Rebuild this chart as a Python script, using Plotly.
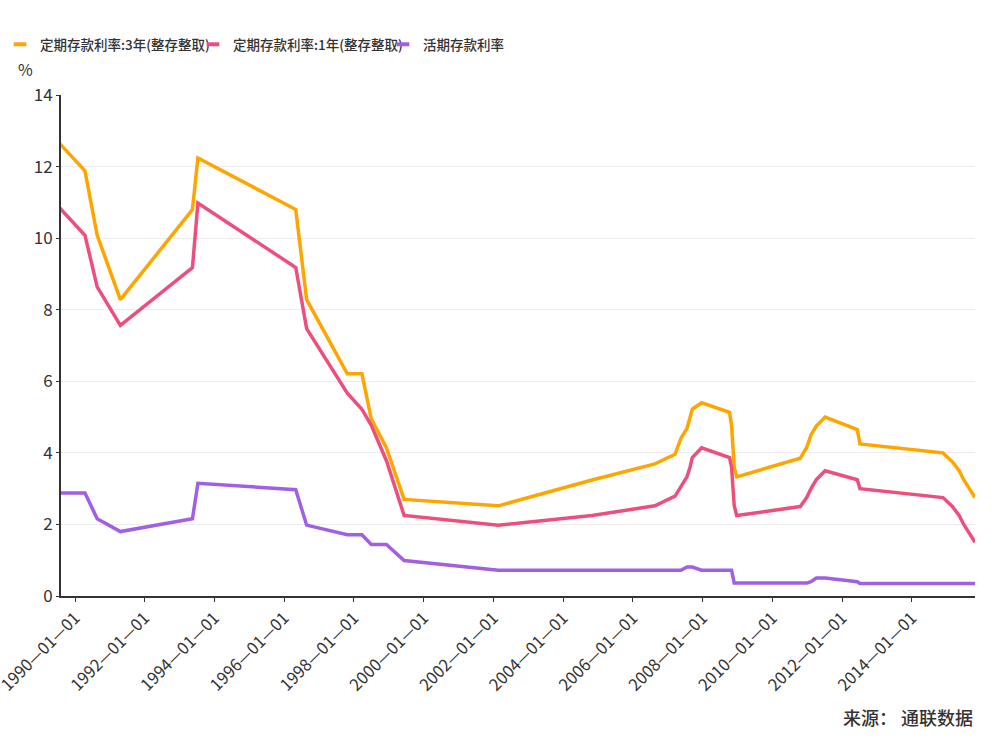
import plotly.graph_objects as go

dates = [
    "1989-02-01", "1990-04-15", "1990-08-21", "1991-04-21", "1993-05-15", "1993-07-11",
    "1996-05-01", "1996-08-23", "1997-10-23", "1998-03-25", "1998-07-01", "1998-12-07",
    "1999-06-10", "2002-02-21", "2004-10-29", "2006-08-19", "2007-03-18", "2007-05-19",
    "2007-07-21", "2007-08-22", "2007-09-15", "2007-12-21", "2008-10-09", "2008-10-30",
    "2008-11-27", "2008-12-23", "2010-10-20", "2010-12-26", "2011-02-09", "2011-04-06",
    "2011-07-07", "2012-06-08", "2012-07-06", "2014-11-22", "2015-03-01", "2015-05-11",
    "2015-06-28", "2015-08-26", "2015-10-24",
]
rate_3y = [
    13.14, 11.88, 10.08, 8.28, 10.80, 12.24,
    10.80, 8.28, 6.21, 6.21, 4.95, 4.14,
    2.70, 2.52, 3.24, 3.69, 3.96, 4.41,
    4.68, 4.95, 5.22, 5.40, 5.13, 4.77,
    3.60, 3.33, 3.85, 4.15, 4.50, 4.75,
    5.00, 4.65, 4.25, 4.00, 3.75, 3.50,
    3.25, 3.00, 2.75,
]
rate_1y = [
    11.34, 10.08, 8.64, 7.56, 9.18, 10.98,
    9.18, 7.47, 5.67, 5.22, 4.77, 3.78,
    2.25, 1.98, 2.25, 2.52, 2.79, 3.06,
    3.33, 3.60, 3.87, 4.14, 3.87, 3.60,
    2.52, 2.25, 2.50, 2.75, 3.00, 3.25,
    3.50, 3.25, 3.00, 2.75, 2.50, 2.25,
    2.00, 1.75, 1.50,
]
rate_demand = [
    2.88, 2.88, 2.16, 1.80, 2.16, 3.15,
    2.97, 1.98, 1.71, 1.71, 1.44, 1.44,
    0.99, 0.72, 0.72, 0.72, 0.72, 0.72,
    0.81, 0.81, 0.81, 0.72, 0.72, 0.72,
    0.36, 0.36, 0.36, 0.36, 0.40, 0.50,
    0.50, 0.40, 0.35, 0.35, 0.35, 0.35,
    0.35, 0.35, 0.35,
]
series_names = ["定期存款利率:3年(整存整取)", "定期存款利率:1年(整存整取)", "活期存款利率"]
series_colors = ["#FFA500", "#EC4F7E", "#A15FE3"]
legend_widths = [148, 145, None]
x_range = ["1989-08-07", "2015-10-24"]

FONT = "Noto Sans CJK SC, Noto Sans, sans-serif"
TXT = "#333333"

fig = go.Figure()
for name, vals, col in zip(series_names, [rate_3y, rate_1y, rate_demand], series_colors):
    fig.add_trace(go.Scatter(
        x=dates, y=vals, mode="lines", name=name, showlegend=False,
        line=dict(color=col, width=3.5),
    ))
for name, col, lw in zip(series_names, series_colors, legend_widths):
    fig.add_trace(go.Scatter(
        x=[None], y=[None], mode="markers", name=name, showlegend=True,
        legendwidth=lw,
        marker=dict(symbol="line-ew-open", size=9, color=col, line=dict(color=col, width=4)),
    ))

fig.update_layout(
    width=1000, height=750,
    margin=dict(l=61, r=25, t=95, b=154, autoexpand=False),
    paper_bgcolor="white", plot_bgcolor="white",
    font=dict(family=FONT, color=TXT, size=14),
    legend=dict(
        orientation="h", xref="container", yref="container",
        x=-0.003, y=1 - 29 / 750, xanchor="left", yanchor="top",
        font=dict(family=FONT, size=13.5, color=TXT, weight=500),
        itemwidth=30, tracegroupgap=0,
    ),
    xaxis=dict(
        type="date", range=x_range, tick0="1990-01-01", dtick="M24",
        tickformat="%Y—%m—%d", tickangle=-45, automargin=False,
        ticklabeloverflow="allow",
        showgrid=False, showline=True, linecolor="#333333", linewidth=2,
        ticks="outside", ticklen=4, tickcolor="#333333", tickwidth=1,
        tickfont=dict(family=FONT, size=16.5, color=TXT),
        zeroline=False,
    ),
    yaxis=dict(
        range=[0, 14], dtick=2, showgrid=True, gridcolor="#EDEDED", gridwidth=1,
        showline=True, linecolor="#333333", linewidth=2, automargin=False,
        ticks="outside", ticklen=3, tickcolor="#333333",
        tickfont=dict(family=FONT, size=17, color=TXT),
        zeroline=False,
    ),
    annotations=[
        dict(text="%", xref="paper", yref="paper", x=0, y=1, xshift=-45, yshift=12,
             xanchor="left", yanchor="bottom", showarrow=False,
             font=dict(family=FONT, size=16, color=TXT)),
        dict(text="来源： 通联数据", xref="paper", yref="paper", x=1, y=0, yshift=-106,
             xanchor="right", yanchor="top", showarrow=False,
             font=dict(family=FONT, size=18, color=TXT, weight=500)),
    ],
)

fig.write_html("out.html")
